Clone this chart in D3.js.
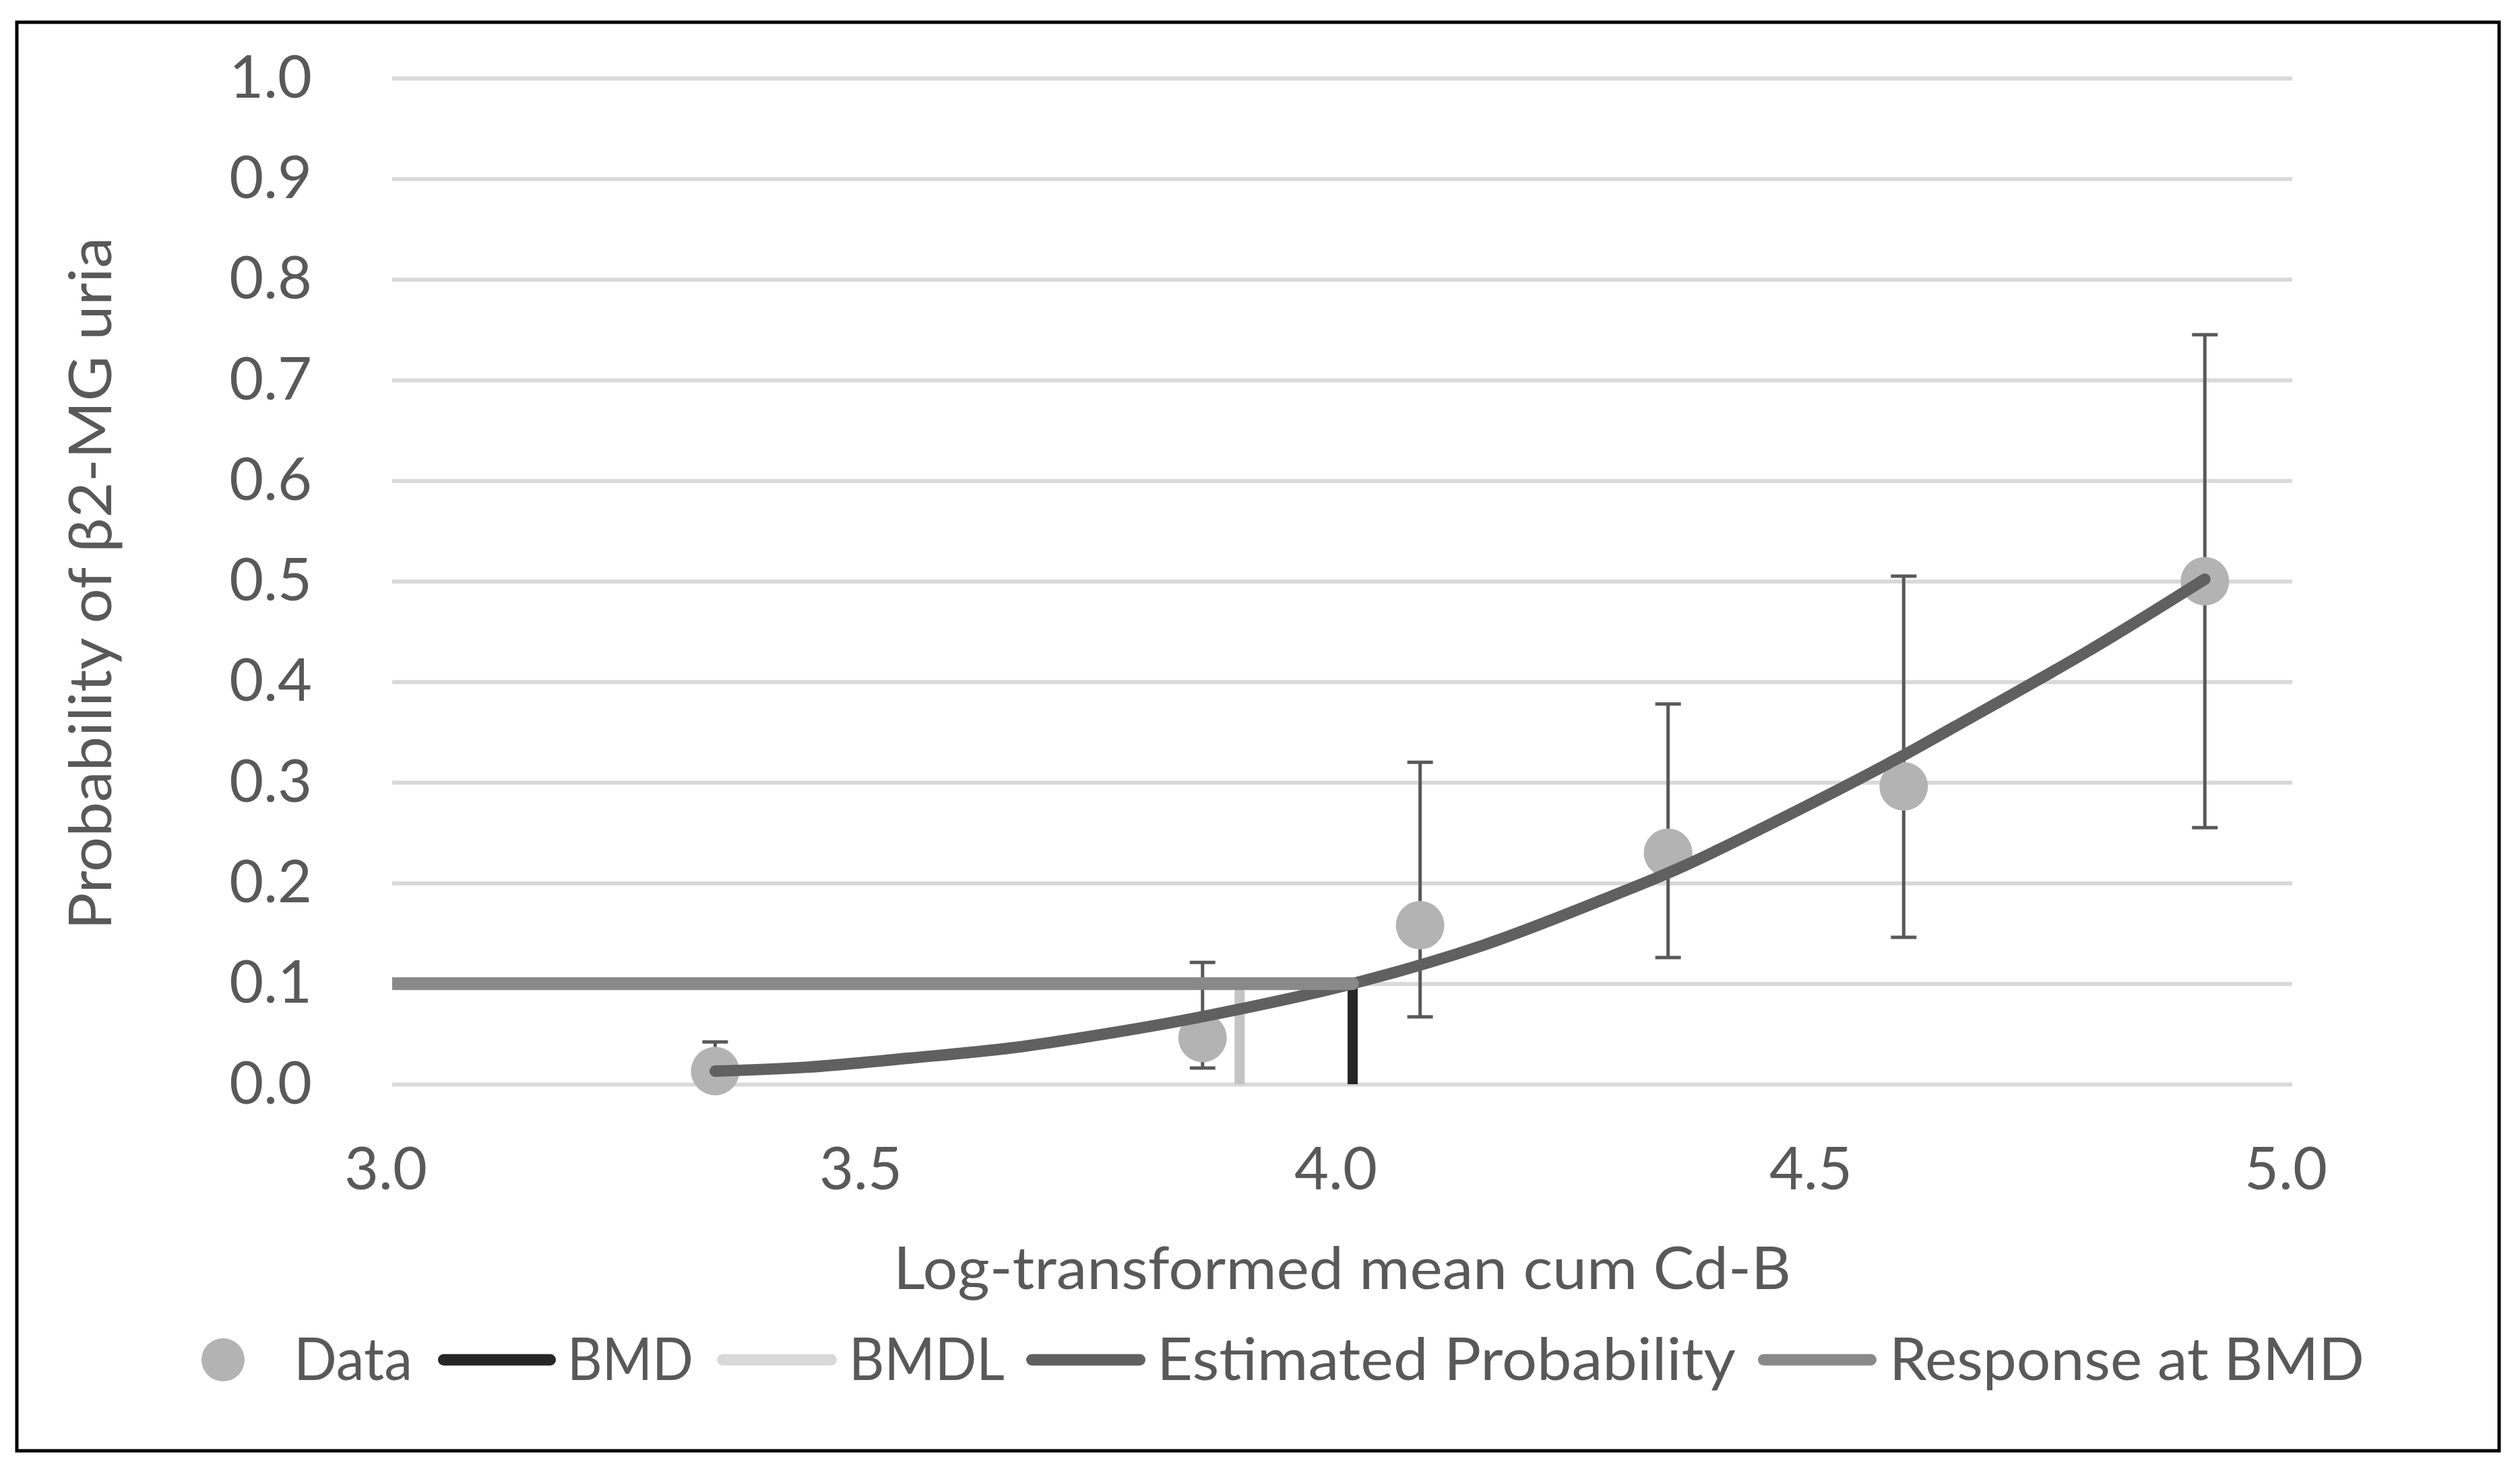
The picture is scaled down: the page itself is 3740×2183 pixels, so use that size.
<!DOCTYPE html>
<html>
<head>
<meta charset="utf-8">
<script src="https://cdn.jsdelivr.net/npm/d3@7"></script>
<style>
  html, body { margin: 0; padding: 0; background: #fff; }
  svg { display: block; }
  text { font-family: Lato, "Open Sans", sans-serif; fill: #595959; }
</style>
</head>
<body>
<svg></svg>
<script>
// ---- DATA ----
const doseX   = [3.340, 3.853, 4.082, 4.343, 4.591, 4.908];
const probObs = [0.013, 0.046, 0.158, 0.230, 0.296, 0.500];
const ciLow   = [0.001, 0.016, 0.067, 0.126, 0.146, 0.255];
const ciHigh  = [0.042, 0.121, 0.320, 0.378, 0.505, 0.745];

// estimated probability curve
const fitX = [3.340, 3.438, 3.545, 3.651, 3.757, 3.852, 4.011, 4.148, 4.289, 4.360, 4.502, 4.591, 4.644, 4.786, 4.908];
const fitY = [0.013, 0.017, 0.026, 0.036, 0.051, 0.067, 0.100, 0.138, 0.189, 0.217, 0.283, 0.327, 0.355, 0.431, 0.502];

const bmd = 4.011;
const bmdl = 3.892;
const bmr = 0.1;

const xTicks = [3.0, 3.5, 4.0, 4.5, 5.0];
const yTicks = [0, 0.1, 0.2, 0.3, 0.4, 0.5, 0.6, 0.7, 0.8, 0.9, 1.0];

const legendNames = ["Data", "BMD", "BMDL", "Estimated Probability", "Response at BMD"];

// ---- LAYOUT ----
const W = 3740, H = 2183;
const plot = { left: 582, right: 3402, top: 116, bottom: 1609 };
const fontSize = 88;

const colors = {
  data: "#b3b3b3",
  err: "#595959",
  bmd: "#262626",
  bmdl: "#c4c4c4",
  bmdlLegend: "#d9d9d9",
  fit: "#606060",
  resp: "#898989",
  grid: "#d9d9d9"
};

const svg = d3.select("svg")
  .attr("width", W)
  .attr("height", H);

svg.append("rect")
  .attr("x", 25).attr("y", 33)
  .attr("width", 3709 - 25).attr("height", 2153 - 33)
  .attr("fill", "#fff")
  .attr("stroke", "#000")
  .attr("stroke-width", 5);

// ---- SCALES ----
const x = d3.scaleLinear().domain([3, 5]).range([plot.left, plot.right]);
const y = d3.scaleLinear().domain([0, 1]).range([plot.bottom, plot.top]);

svg.append("clipPath").attr("id", "plotclip")
  .append("rect")
  .attr("x", plot.left).attr("y", plot.top)
  .attr("width", plot.right - plot.left).attr("height", plot.bottom - plot.top);

// ---- GRID ----
const grid = svg.append("g")
  .attr("transform", `translate(${plot.left},0)`)
  .call(d3.axisLeft(y).tickValues(yTicks).tickSize(-(plot.right - plot.left)).tickFormat(""));
grid.select(".domain").remove();
grid.selectAll("line").attr("stroke", colors.grid).attr("stroke-width", 6);

// ---- AXES ----
const yAxisG = svg.append("g")
  .attr("transform", `translate(${plot.left},0)`)
  .call(d3.axisLeft(y).tickValues(yTicks).tickSize(0).tickPadding(119).tickFormat(d3.format(".1f")));
yAxisG.select(".domain").remove();
yAxisG.selectAll("text")
  .attr("font-size", fontSize)
  .attr("font-family", null)
  .attr("fill", "#595959");

const xAxisG = svg.append("g")
  .attr("transform", `translate(0,${plot.bottom})`)
  .call(d3.axisBottom(x).tickValues(xTicks).tickSize(0).tickPadding(94).tickFormat(d3.format(".1f")));
xAxisG.select(".domain").remove();
xAxisG.selectAll("text")
  .attr("font-size", fontSize)
  .attr("font-family", null)
  .attr("fill", "#595959")
  .attr("dx", -10);

// axis titles
svg.append("text")
  .attr("transform", `translate(165,866) rotate(-90)`)
  .attr("text-anchor", "middle")
  .attr("font-size", fontSize)
  .attr("textLength", 1028)
  .attr("lengthAdjust", "spacingAndGlyphs")
  .text("Probability of β2-MG uria");

svg.append("text")
  .attr("x", 1992).attr("y", 1913)
  .attr("text-anchor", "middle")
  .attr("font-size", fontSize)
  .attr("textLength", 1332)
  .attr("lengthAdjust", "spacingAndGlyphs")
  .text("Log-transformed mean cum Cd-B");

// ---- SERIES ----
const pts = doseX.map((d, i) => ({ x: d, p: probObs[i], lo: ciLow[i], hi: ciHigh[i] }));
const fit = fitX.map((d, i) => ({ x: d, y: fitY[i] }));

// error bars
const eb = svg.append("g").attr("stroke", colors.err).attr("stroke-width", 5);
eb.selectAll(".stem").data(pts).join("line")
  .attr("x1", d => x(d.x)).attr("x2", d => x(d.x))
  .attr("y1", d => y(d.lo)).attr("y2", d => y(d.hi));
eb.selectAll(".capHi").data(pts).join("line")
  .attr("x1", d => x(d.x) - 19).attr("x2", d => x(d.x) + 19)
  .attr("y1", d => y(d.hi)).attr("y2", d => y(d.hi));
eb.selectAll(".capLo").data(pts).join("line")
  .attr("x1", d => x(d.x) - 19).attr("x2", d => x(d.x) + 19)
  .attr("y1", d => y(d.lo)).attr("y2", d => y(d.lo));

// data markers
svg.append("g").selectAll("circle").data(pts).join("circle")
  .attr("cx", d => x(d.x)).attr("cy", d => y(d.p))
  .attr("r", 36)
  .attr("fill", colors.data);

// BMDL and BMD drop lines
const clipped = svg.append("g").attr("clip-path", "url(#plotclip)");
clipped.append("line")
  .attr("x1", x(bmdl)).attr("x2", x(bmdl))
  .attr("y1", y(bmr)).attr("y2", y(0) + 20)
  .attr("stroke", colors.bmdl).attr("stroke-width", 15);
clipped.append("line")
  .attr("x1", x(bmd)).attr("x2", x(bmd))
  .attr("y1", y(bmr)).attr("y2", y(0) + 20)
  .attr("stroke", colors.bmd).attr("stroke-width", 15);

// estimated probability
const line = d3.line()
  .x(d => x(d.x))
  .y(d => y(d.y))
  .curve(d3.curveCatmullRom.alpha(0.5));

svg.append("path")
  .datum(fit)
  .attr("d", line)
  .attr("fill", "none")
  .attr("stroke", colors.fit)
  .attr("stroke-width", 17)
  .attr("stroke-linecap", "round")
  .attr("stroke-linejoin", "round");

// response at BMD
svg.append("g").attr("clip-path", "url(#plotclip)")
  .append("line")
  .attr("x1", x(3) - 20).attr("x2", x(bmd))
  .attr("y1", y(bmr)).attr("y2", y(bmr))
  .attr("stroke", colors.resp)
  .attr("stroke-width", 19)
  .attr("stroke-linecap", "round");

// ---- LEGEND ----
const legY = 2018;
const legLayout = [
  { type: "dot", x0: 331, tx: 436, tw: 176, color: colors.data },
  { type: "line", x0: 650, x1: 825, tx: 842, tw: 187, color: colors.bmd },
  { type: "line", x0: 1064, x1: 1242, tx: 1260, tw: 231, color: colors.bmdlLegend },
  { type: "line", x0: 1523, x1: 1700, tx: 1717, tw: 859, color: colors.fit },
  { type: "line", x0: 2609, x1: 2785, tx: 2804, tw: 705, color: colors.resp }
];

const leg = svg.append("g");
legLayout.forEach((l, i) => {
  if (l.type === "dot") {
    leg.append("circle").attr("cx", l.x0).attr("cy", legY).attr("r", 32).attr("fill", l.color);
  } else {
    leg.append("line")
      .attr("x1", l.x0 + 8.5).attr("x2", l.x1 - 8.5)
      .attr("y1", legY).attr("y2", legY)
      .attr("stroke", l.color).attr("stroke-width", 17)
      .attr("stroke-linecap", "round");
  }
  leg.append("text")
    .attr("x", l.tx).attr("y", 2048)
    .attr("font-size", fontSize)
    .attr("textLength", l.tw)
    .attr("lengthAdjust", "spacingAndGlyphs")
    .text(legendNames[i]);
});
</script>
</body>
</html>
